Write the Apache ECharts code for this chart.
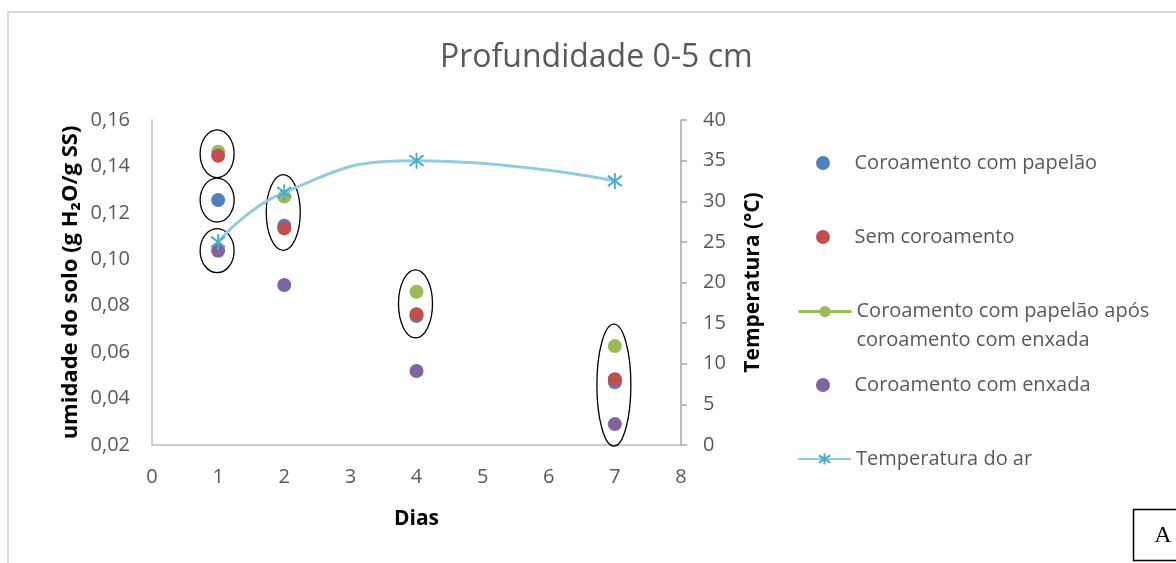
<!DOCTYPE html>
<html>
<head>
<meta charset="utf-8">
<script src="https://cdn.jsdelivr.net/npm/echarts@6/dist/echarts.min.js"></script>
<style>
html,body{margin:0;padding:0;background:#fff;}
#c{width:1176px;height:563px;}
</style>
</head>
<body>
<div id="c"></div>
<script>
// ---- data ----
const days = [1, 2, 4, 7];
const papelao = [0.1255, 0.1145, 0.0756, 0.0470];          // Coroamento com papelão
const semCoroamento = [0.1446, 0.1133, 0.0763, 0.0483];    // Sem coroamento
const papelaoAposEnxada = [0.1463, 0.1270, 0.0860, 0.0626]; // Coroamento com papelão após coroamento com enxada
const enxada = [0.1037, 0.0889, 0.0519, 0.0290];           // Coroamento com enxada
const temperatura = [25.0, 31.1, 35.0, 32.5];              // Temperatura do ar
const xTicks = [0, 1, 2, 3, 4, 5, 6, 7, 8];
const names = [
  'Coroamento com papelão',
  'Sem coroamento',
  'Coroamento com papelão após\ncoroamento com enxada',
  'Coroamento com enxada',
  'Temperatura do ar'
];
// groups circled in the original (day index, series indices)
const circledGroups = [
  [0, [1, 2]], [0, [0]], [0, [3]],
  [1, [0, 1, 2]],
  [2, [0, 1, 2]],
  [3, [0, 1, 2, 3]]
];

const moistSeries = [papelao, semCoroamento, papelaoAposEnxada, enxada];
const pairs = arr => days.map((d, i) => [d, arr[i]]);
const ellipseData = circledGroups.map(([di, members]) => {
  const vals = members.map(m => moistSeries[m][di]);
  return [days[di], Math.min(...vals), Math.max(...vals)];
});

const FONT = 'Open Sans';
const GREY = '#595959';
const colors = ['#4f81bd', '#c0504d', '#9bbb59', '#8064a2', '#4bacc6'];
const starPath = 'path://M10 0V20M2.6 3.5L17.4 16.5M2.6 16.5L17.4 3.5';

const chart = echarts.init(document.getElementById('c'), null, {renderer: 'canvas'});

function mkLegend(name, left, top, extra) {
  return Object.assign({
    data: [name],
    orient: 'vertical',
    left: left,
    top: top,
    padding: 0,
    itemWidth: 53,
    itemHeight: 14,
    selectedMode: false,
    textStyle: {fontFamily: FONT, fontSize: 20, color: GREY, lineHeight: 24}
  }, extra || {});
}

const option = {
  animation: false,
  backgroundColor: '#fff',
  title: {
    text: 'Profundidade 0-5 cm',
    left: 440, top: 42,
    padding: 0,
    textStyle: {fontFamily: FONT, fontSize: 32, fontWeight: 'normal', color: GREY}
  },
  grid: {left: 152, right: 495, top: 120, bottom: 118, containLabel: false},
  legend: [
    mkLegend(names[0], 816, 151),
    mkLegend(names[1], 816, 225),
    mkLegend(names[2], 797, 268, {
      lineStyle: {color: colors[2], width: 3, opacity: 1},
      formatter: n => ' \n' + n,
      textStyle: {fontFamily: FONT, fontSize: 20, color: GREY, lineHeight: 29}
    }),
    mkLegend(names[3], 816, 373),
    mkLegend(names[4], 797, 447)
  ],
  xAxis: {
    type: 'value', min: 0, max: 8, interval: 1,
    name: 'Dias', nameLocation: 'middle', nameGap: 64,
    nameTextStyle: {fontFamily: FONT, fontSize: 21, fontWeight: 'bold', color: '#000'},
    axisLine: {show: true, onZero: false, lineStyle: {color: '#bfbfbf', width: 1.5}},
    axisTick: {show: false},
    splitLine: {show: false},
    axisLabel: {margin: 22, fontFamily: FONT, fontSize: 20, color: GREY,
      formatter: v => xTicks.includes(v) ? String(v) : ''}
  },
  yAxis: [
    {
      type: 'value', min: 0.02, max: 0.16, interval: 0.02, position: 'left',
      name: 'umidade do solo (g H₂O/g SS)', nameLocation: 'middle', nameGap: 70, nameRotate: 90,
      nameTextStyle: {fontFamily: FONT, fontSize: 22, fontWeight: 'bold', color: '#000'},
      axisLine: {show: true, lineStyle: {color: '#bfbfbf', width: 1.5}},
      axisTick: {show: false},
      splitLine: {show: false},
      axisLabel: {margin: 22, fontFamily: FONT, fontSize: 20, color: GREY,
        formatter: v => v.toFixed(2).replace('.', ',')}
    },
    {
      type: 'value', min: 0, max: 40, interval: 5, position: 'right',
      name: 'Temperatura (°C)', nameLocation: 'middle', nameGap: 62, nameRotate: 90,
      nameTextStyle: {fontFamily: FONT, fontSize: 21, fontWeight: 'bold', color: '#000'},
      axisLine: {show: true, lineStyle: {color: '#a6a6a6', width: 1.5}},
      axisTick: {show: true, inside: false, length: 6, lineStyle: {color: '#a6a6a6', width: 1.5}},
      splitLine: {show: false},
      axisLabel: {margin: 22, fontFamily: FONT, fontSize: 20, color: GREY}
    }
  ],
  series: [
    {name: names[0], type: 'scatter', data: pairs(papelao), symbolSize: 14,
      itemStyle: {color: colors[0], opacity: 1}, z: 2},
    {name: names[2], type: 'line', data: pairs(papelaoAposEnxada), symbol: 'circle', symbolSize: 14,
      showSymbol: true, itemStyle: {color: colors[2]}, lineStyle: {opacity: 0, width: 3, color: colors[2]}, z: 2},
    {name: names[1], type: 'scatter', data: pairs(semCoroamento), symbolSize: 14,
      itemStyle: {color: colors[1], opacity: 1}, z: 2},
    {name: names[3], type: 'scatter', data: pairs(enxada), symbolSize: 14,
      itemStyle: {color: colors[3], opacity: 1}, z: 2},
    {
      name: 'circled', type: 'custom', data: ellipseData, z: 3, silent: true,
      renderItem: function (params, api) {
        const top = api.coord([api.value(0), api.value(2)]);
        const bot = api.coord([api.value(0), api.value(1)]);
        return {
          type: 'ellipse',
          shape: {cx: top[0] - 1, cy: (top[1] + bot[1]) / 2, rx: 17, ry: (bot[1] - top[1]) / 2 + 22},
          style: {fill: null, stroke: '#000', lineWidth: 1.3}
        };
      }
    },
    {name: names[4], type: 'line', yAxisIndex: 1, data: pairs(temperatura), smooth: 0.5,
      symbol: starPath, symbolSize: [14, 16], showSymbol: true,
      itemStyle: {color: colors[4], borderColor: colors[4], borderWidth: 2},
      lineStyle: {color: '#93cddd', width: 3}, z: 4}
  ],
  graphic: [
    {type: 'rect', shape: {x: 8, y: 12, width: 1300, height: 700}, style: {fill: null, stroke: '#d9d9d9', lineWidth: 2}, silent: true, z: -1},
    {type: 'rect', shape: {x: 1133.5, y: 509.5, width: 100, height: 51}, style: {fill: '#fff', stroke: '#000', lineWidth: 1.5}, silent: true},
    {type: 'text', x: 1163, y: 536, style: {text: 'A', font: '24px "Liberation Serif"', fill: '#000', textAlign: 'center', textVerticalAlign: 'middle', verticalAlign: 'middle'}, silent: true}
  ]
};
chart.setOption(option);
</script>
</body>
</html>
